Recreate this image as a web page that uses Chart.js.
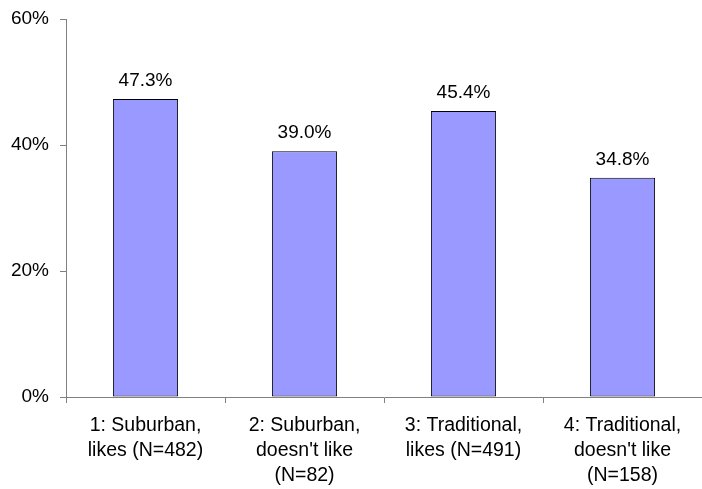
<!DOCTYPE html>
<html>
<head>
<meta charset="utf-8">
<script src="https://cdn.jsdelivr.net/npm/chart.js@4/dist/chart.umd.min.js"></script>
<style>
  html, body { margin: 0; padding: 0; background: #fff; }
  #wrap { width: 702px; height: 489px; }
</style>
</head>
<body>
<div id="wrap"><canvas id="c" width="702" height="489"></canvas></div>
<script>
const categories = [
  ["1: Suburban,", "likes (N=482)"],
  ["2: Suburban,", "doesn't like", "(N=82)"],
  ["3: Traditional,", "likes (N=491)"],
  ["4: Traditional,", "doesn't like", "(N=158)"]
];
const shares = [47.3, 39.0, 45.4, 34.8];
const yTicks = [0, 20, 40, 60];

const FONT = "'Liberation Sans', Arial, sans-serif";

// Value labels printed above each bar
const valueLabels = {
  id: 'valueLabels',
  afterDatasetsDraw(chart) {
    const ctx = chart.ctx;
    const meta = chart.getDatasetMeta(0);
    ctx.save();
    ctx.font = '19px ' + FONT;
    ctx.fillStyle = '#000';
    ctx.textAlign = 'center';
    ctx.textBaseline = 'alphabetic';
    meta.data.forEach((bar, i) => {
      ctx.fillText(shares[i].toFixed(1) + '%', bar.x, bar.y - 13);
    });
    ctx.restore();
  }
};

new Chart(document.getElementById('c'), {
  type: 'bar',
  data: {
    labels: categories,
    datasets: [{
      data: shares,
      backgroundColor: '#9999FF',
      borderColor: '#000',
      borderWidth: 1,
      borderSkipped: false,
      barPercentage: 0.41,
      categoryPercentage: 1
    }]
  },
  options: {
    responsive: false,
    animation: false,
    layout: { padding: { top: 19, right: 0, left: 0, bottom: 0 } },
    plugins: { legend: { display: false }, tooltip: { enabled: false } },
    scales: {
      y: {
        min: 0, max: 60,
        afterBuildTicks(scale) { scale.ticks = yTicks.map(v => ({ value: v })); },
        afterFit(scale) {
          scale.width = 66;
          scale.paddingTop = 0;
          scale.paddingBottom = 0;
        },
        ticks: {
          font: { family: FONT, size: 19 },
          color: '#000',
          padding: 11,
          callback: v => v + '%'
        },
        grid: { drawOnChartArea: false, drawTicks: true, tickLength: 6, color: '#808080' },
        border: { color: '#808080', width: 1 }
      },
      x: {
        afterFit(scale) { scale.height = 92; },
        ticks: {
          font: { family: FONT, size: 19.5, lineHeight: '25px' },
          color: '#000',
          padding: 10,
          maxRotation: 0,
          autoSkip: false
        },
        grid: { drawOnChartArea: false, drawTicks: true, tickLength: 6, color: '#808080', offset: true },
        border: { color: '#808080', width: 1 }
      }
    }
  },
  plugins: [valueLabels]
});
</script>
</body>
</html>
